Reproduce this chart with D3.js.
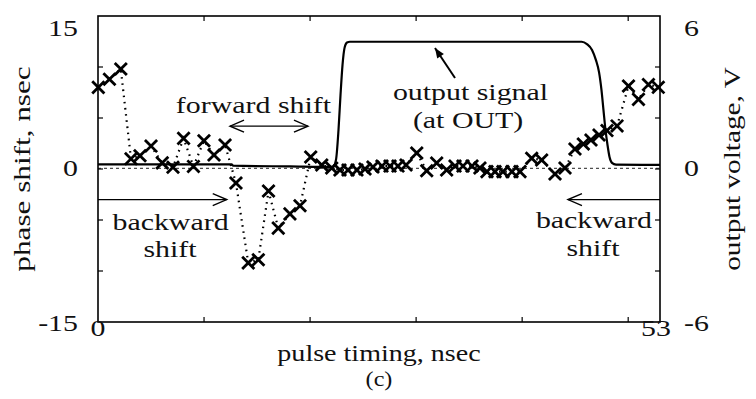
<!DOCTYPE html>
<html lang="en">
<head>
  <meta charset="UTF-8">
  <title>Phase shift vs pulse timing</title>
  <style>
    body { margin: 0; background: #fff; }
    svg { display: block; }
    text { font-family: "Liberation Serif", "Times New Roman", serif; fill: #111; }
  </style>
</head>
<body>
  <div id="chart"></div>
  <script src="https://d3js.org/d3.v7.min.js"></script>
  <script>
    const width = 756
    const height = 399
    const margin = { top: 16, right: 96, bottom: 77, left: 98 }

    // measured phase shift (crosses, dotted)
    const pulseTime = [0.03, 1.08, 2.15, 3.11, 3.96, 5.0, 6.06, 7.07, 8.07, 9.0,
      9.99, 10.94, 11.98, 13.01, 14.17, 15.12, 16.08, 17.0, 18.1, 19.05,
      20.06, 21.1, 22.04, 22.82, 23.58, 24.42, 25.18, 25.93, 26.78, 27.54,
      28.29, 29.05, 30.06, 31.0, 31.94, 32.88, 33.67, 34.42, 35.27, 36.02,
      36.68, 37.44, 38.19, 39.04, 39.8, 40.9, 41.84, 43.1, 44.04, 44.98,
      45.77, 46.49, 47.25, 48.0, 48.95, 50.03, 50.97, 51.91, 52.84]
    const phaseShift = [8.0, 8.8, 9.8, 1.0, 1.3, 2.25, 0.6, 0.17, 3.0, 0.25,
      2.77, 1.37, 2.35, -1.37, -9.2, -8.9, -2.16, -5.8, -4.4, -3.6,
      1.18, 0.39, 0.1, -0.1, -0.1, -0.1, 0.0, 0.2, 0.29, 0.29,
      0.29, 0.39, 1.57, -0.17, 0.59, -0.1, 0.29, 0.29, 0.29, 0.1,
      -0.26, -0.26, -0.26, -0.26, -0.26, 1.05, 0.88, -0.49, 0.1, 1.96,
      2.45, 2.84, 3.33, 3.77, 4.22, 8.14, 6.83, 8.28, 8.01]

    // output signal at OUT (solid)
    const signalTime = [0, 12.6, 12.75, 18.1, 22.16, 22.44, 22.68, 22.87, 23.06, 23.25,
      23.48, 23.76, 45.61, 46.11, 46.59, 46.96, 47.25, 47.48, 47.67, 47.86,
      48.05, 48.24, 48.47, 48.85, 53]
    const signalVolt = [0.18, 0.18, 0.13, 0.1, 0.08, 0.35, 1.53, 2.9, 4.08, 4.75,
      4.96, 4.99, 4.99, 4.9, 4.67, 4.27, 3.8, 3.1, 2.31, 1.53,
      0.94, 0.47, 0.24, 0.17, 0.16]

    const xTicks = [10, 20, 30, 40, 50]
    const xLabels = [0, 53]
    const phaseTicks = [-10, -5, 0, 5, 10]
    const phaseLabels = [-15, 0, 15]
    const voltLabels = [-6, 0, 6]

    const fs = 23
    const stretch = 1.3

    const svg = d3.select('#chart').append('svg')
      .attr('width', width)
      .attr('height', height)

    const w = width - margin.left - margin.right
    const h = height - margin.top - margin.bottom

    const x = d3.scaleLinear().domain([0, 53]).range([margin.left, margin.left + w])
    const y = d3.scaleLinear().domain([-15, 15]).range([margin.top + h, margin.top])
    const yV = d3.scaleLinear().domain([-6, 6]).range([margin.top + h, margin.top])

    // text is wide in the original, so squeeze it in with a horizontal stretch
    function label(str, px, py, opts = {}) {
      const s = opts.stretch || stretch
      const rot = opts.rotate ? ` rotate(${opts.rotate})` : ''
      return svg.append('text')
        .attr('transform', `translate(${px},${py})${rot} scale(${s},1)`)
        .attr('text-anchor', opts.anchor || 'middle')
        .attr('font-size', opts.size || fs)
        .text(str)
    }

    // zero reference
    svg.append('line')
      .attr('x1', x(0)).attr('x2', x(53))
      .attr('y1', y(0) - 0.7).attr('y2', y(0) - 0.7)
      .attr('stroke', '#222').attr('stroke-width', 1)
      .attr('stroke-dasharray', '3 3')

    // output signal
    const sig = signalTime.map((t, i) => [t, signalVolt[i]])
    svg.append('path')
      .attr('d', d3.line().x(d => x(d[0])).y(d => yV(d[1])).curve(d3.curveMonotoneX)(sig))
      .attr('fill', 'none').attr('stroke', '#000').attr('stroke-width', 2.2)

    // phase shift, dotted line and crosses
    const pts = pulseTime.map((t, i) => [t, phaseShift[i]])
    svg.append('path')
      .attr('d', d3.line().x(d => x(d[0])).y(d => y(d[1]))(pts))
      .attr('fill', 'none').attr('stroke', '#000').attr('stroke-width', 2.2)
      .attr('stroke-dasharray', '1.6 4.6')

    svg.append('g').selectAll('path')
      .data(pts)
      .join('path')
      .attr('transform', d => `translate(${x(d[0])},${y(d[1])})`)
      .attr('d', d3.symbol(d3.symbolX, 98))
      .attr('fill', 'none').attr('stroke', '#000').attr('stroke-width', 2.8)

    // frame and inward ticks
    svg.append('rect')
      .attr('x', x(0)).attr('y', y(15))
      .attr('width', x(53) - x(0)).attr('height', y(-15) - y(15))
      .attr('fill', 'none').attr('stroke', '#000').attr('stroke-width', 1.6)

    const tk = 5
    const ticks = svg.append('g').attr('stroke', '#000').attr('stroke-width', 1.2)
    xTicks.forEach(d => {
      ticks.append('line').attr('x1', x(d)).attr('x2', x(d))
        .attr('y1', y(-15)).attr('y2', y(-15) - tk)
      ticks.append('line').attr('x1', x(d)).attr('x2', x(d))
        .attr('y1', y(15)).attr('y2', y(15) + tk)
    })
    phaseTicks.forEach(d => {
      ticks.append('line').attr('x1', x(0)).attr('x2', x(0) + tk)
        .attr('y1', y(d)).attr('y2', y(d))
      ticks.append('line').attr('x1', x(53)).attr('x2', x(53) - tk)
        .attr('y1', y(d)).attr('y2', y(d))
    })

    // tick labels
    phaseLabels.forEach(v => {
      const dy = v === 15 ? 20 : v === 0 ? 7 : 9
      label(v, x(0) - 20, y(v) + dy, { anchor: 'end' })
    })
    voltLabels.forEach(v => {
      const dy = v === 6 ? 20 : v === 0 ? 7 : 9
      label(v, x(53) + 24, yV(v) + dy, { anchor: 'start' })
    })
    xLabels.forEach(v => label(v, x(v) - (v === 53 ? 4 : 0), y(-15) + 14))

    // axis titles
    label('pulse timing, nsec', x(26.5), 361, { stretch: 1.22 })
    label('(c)', x(26.5), 386, { stretch: 1.15, size: 21 })
    label('phase shift, nsec', 30, y(0), { rotate: -90, stretch: 1.3, size: 24 })
    label('output voltage, V', 740, y(0), { rotate: -90, stretch: 1.22, size: 24 })

    // annotations
    label('forward shift', x(14.66), y(5.5))
    label('output signal', x(35.13), y(6.76))
    label('(at OUT)', x(34.9), y(4.0))
    label('backward', x(6.84), y(-5.98))
    label('shift', x(6.79), y(-8.6))
    label('backward', x(46.77), y(-5.78))
    label('shift', x(46.68), y(-8.53))

    const arrowStyle = sel => sel.attr('fill', 'none').attr('stroke', '#000').attr('stroke-width', 1.4)

    function chevron(px, py, dir) {
      svg.append('path')
        .attr('d', `M${px - dir * 14},${py - 6}L${px},${py}L${px - dir * 14},${py + 6}`)
        .call(arrowStyle)
    }

    // forward shift double arrow
    const fy = y(4.2)
    svg.append('line').attr('x1', x(12.45)).attr('x2', x(19.8))
      .attr('y1', fy).attr('y2', fy).call(arrowStyle)
    chevron(x(12.45), fy, -1)
    chevron(x(19.8), fy, 1)

    // backward arrows
    const by = y(-3)
    svg.append('line').attr('x1', x(0)).attr('x2', x(12.14))
      .attr('y1', by).attr('y2', by).call(arrowStyle)
    chevron(x(12.14), by, 1)
    svg.append('line').attr('x1', x(53)).attr('x2', x(44.32))
      .attr('y1', by).attr('y2', by).call(arrowStyle)
    chevron(x(44.32), by, -1)

    // output signal pointer
    const ax0 = x(33.67), ay0 = y(8.92), ax1 = x(31.78), ay1 = y(11.86)
    svg.append('line').attr('x1', ax0).attr('y1', ay0).attr('x2', ax1).attr('y2', ay1)
      .attr('stroke', '#000').attr('stroke-width', 2)
    const ang = Math.atan2(ay1 - ay0, ax1 - ax0)
    const hl = 10, hw = 4
    const bx = ax1 - hl * Math.cos(ang), byy = ay1 - hl * Math.sin(ang)
    svg.append('path')
      .attr('d', `M${ax1},${ay1}L${bx - hw * Math.sin(ang)},${byy + hw * Math.cos(ang)}L${bx + hw * Math.sin(ang)},${byy - hw * Math.cos(ang)}Z`)
      .attr('fill', '#000')
  </script>
</body>
</html>
